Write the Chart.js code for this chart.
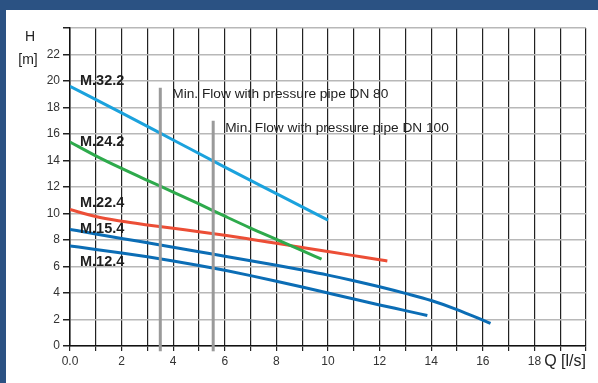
<!DOCTYPE html>
<html>
<head>
<meta charset="utf-8">
<script src="https://cdn.jsdelivr.net/npm/chart.js@4.4.0/dist/chart.umd.min.js"></script>
<style>
    html, body { margin: 0; padding: 0; width: 598px; height: 383px; overflow: hidden; background: #2b5283; }
    #panel { position: absolute; left: 6px; top: 10px; right: 0; bottom: 0; background: #ffffff; }
    #wrap { position: absolute; left: 0; top: 0; width: 598px; height: 383px; }
</style>
</head>
<body>
<div id="panel"></div>
<div id="wrap"><canvas id="pumpChart"></canvas></div>
<script>
// Pump curves: flow Q [l/s] against head H [m]
const seriesNames = ['M.32.2', 'M.24.2', 'M.22.4', 'M.15.4', 'M.12.4'];

const q32 = [0, 2, 4, 6, 8, 10];
const h32 = [19.6, 17.6, 15.55, 13.5, 11.5, 9.5];

const q24 = [0, 1, 2, 3, 4, 5, 6, 7, 8, 9, 9.75];
const h24 = [15.4, 14.35, 13.4, 12.5, 11.62, 10.72, 9.8, 8.9, 8.05, 7.2, 6.55];

const q22 = [0, 1, 2, 3, 4, 5, 6, 7, 8, 9, 10, 11, 12, 12.3];
const h22 = [10.3, 9.77, 9.42, 9.14, 8.88, 8.63, 8.36, 8.06, 7.75, 7.44, 7.13, 6.82, 6.51, 6.42];

const q15 = [0, 1, 2, 3, 4, 5, 6, 7, 8, 9, 10, 11, 12, 13, 14, 15, 16, 16.3];
const h15 = [8.8, 8.46, 8.12, 7.79, 7.46, 7.12, 6.78, 6.44, 6.09, 5.73, 5.35, 4.93, 4.47, 3.97, 3.43, 2.75, 1.95, 1.7];

const q12 = [0, 1, 2, 3, 4, 5, 6, 7, 8, 9, 10, 11, 12, 13, 13.85];
const h12 = [7.55, 7.29, 7.02, 6.73, 6.42, 6.08, 5.71, 5.31, 4.89, 4.45, 4.0, 3.55, 3.1, 2.67, 2.3];

// minimum flow markers
const minFlowQ = [3.5, 5.55];
const minFlowTop = [19.5, 17];
const minFlowText = ['Min. Flow with pressure pipe DN 80', 'Min. Flow with pressure pipe DN 100'];

// axes
const qMax = 20;
const hMax = 24;
const qLabels = ['0.0', '2', '4', '6', '8', '10', '12', '14', '16', '18'];
const hLabels = ['0', '2', '4', '6', '8', '10', '12', '14', '16', '18', '20', '22'];

const FONT = "'Liberation Sans', Arial, sans-serif";

function toPoints(xs, ys) {
    return xs.map((x, i) => ({ x: x, y: ys[i] }));
}

const curveColors = ['#1ba2dd', '#2eaa4c', '#ec4e36', '#0b6db5', '#0b6db5'];
const curveData = [[q32, h32], [q24, h24], [q22, h22], [q15, h15], [q12, h12]];

const datasets = [];

// gray min-flow bars go first so they sit on top of the curves
minFlowQ.forEach((q, i) => {
    datasets.push({
        label: minFlowText[i],
        data: [{ x: q, y: -0.4 }, { x: q, y: minFlowTop[i] }],
        borderColor: '#9a9a9a',
        borderWidth: 3,
        pointRadius: 0,
        clip: false
    });
});

curveData.forEach((c, i) => {
    datasets.push({
        label: seriesNames[i],
        data: toPoints(c[0], c[1]),
        borderColor: curveColors[i],
        borderWidth: 3,
        pointRadius: 0,
        cubicInterpolationMode: 'monotone',
        borderCapStyle: 'butt'
    });
});

// text drawn on the plot: series names, min-flow notes and axis titles
const chartText = {
    id: 'chartText',
    afterDatasetsDraw: function(chart) {
        const ctx = chart.ctx;
        const xs = chart.scales.x;
        const ys = chart.scales.y;
        const area = chart.chartArea;
        ctx.save();
        ctx.textBaseline = 'middle';

        // series names, at the head where each label sits
        const nameAt = [20.0, 15.4, 10.8, 8.8, 6.35];
        ctx.font = 'bold 14.5px ' + FONT;
        ctx.fillStyle = '#1e1e1e';
        ctx.textAlign = 'left';
        seriesNames.forEach((name, i) => {
            ctx.fillText(name, area.left + 10, ys.getPixelForValue(nameAt[i]));
        });

        // min flow notes
        ctx.font = '13.7px ' + FONT;
        ctx.fillStyle = '#222';
        const noteAt = [19.0, 16.4];
        minFlowQ.forEach((q, i) => {
            ctx.fillText(minFlowText[i], xs.getPixelForValue(q) + 12, ys.getPixelForValue(noteAt[i]));
        });

        // axis titles
        ctx.font = '14px ' + FONT;
        ctx.textAlign = 'center';
        ctx.fillText('H', 30, area.top + 9);
        ctx.fillText('[m]', 28, area.top + 32);
        ctx.font = '16px ' + FONT;
        ctx.textAlign = 'right';
        ctx.fillText('Q [l/s]', area.right, area.bottom + 16);

        ctx.restore();
    }
};

new Chart(document.getElementById('pumpChart').getContext('2d'), {
    type: 'line',
    data: { datasets: datasets },
    plugins: [chartText],
    options: {
        responsive: true,
        maintainAspectRatio: false,
        animation: false,
        layout: { padding: { left: 0, top: 28, right: 12, bottom: 0 } },
        plugins: {
            legend: { display: false },
            tooltip: { enabled: false }
        },
        scales: {
            x: {
                type: 'linear',
                min: 0,
                max: qMax,
                afterFit: function(scale) { scale.height = 37; },
                grid: {
                    color: '#222',
                    lineWidth: 1.2,
                    tickLength: 5,
                    tickColor: '#222'
                },
                border: { color: '#111', width: 1.5 },
                ticks: {
                    stepSize: 1,
                    autoSkip: false,
                    maxRotation: 0,
                    padding: 3,
                    color: '#333',
                    font: { family: FONT, size: 12 },
                    callback: function(value) {
                        return value % 2 === 0 ? (qLabels[value / 2] || '') : '';
                    }
                }
            },
            y: {
                type: 'linear',
                min: 0,
                max: hMax,
                afterFit: function(scale) { scale.width = 70; },
                grid: {
                    color: '#b8b8b8',
                    lineWidth: 1.5,
                    tickLength: 7,
                    tickColor: '#222'
                },
                border: { color: '#111', width: 1.5 },
                ticks: {
                    stepSize: 2,
                    padding: 3,
                    color: '#333',
                    font: { family: FONT, size: 12 },
                    callback: function(value) {
                        return hLabels[value / 2] || '';
                    }
                }
            }
        }
    }
});
</script>
</body>
</html>
